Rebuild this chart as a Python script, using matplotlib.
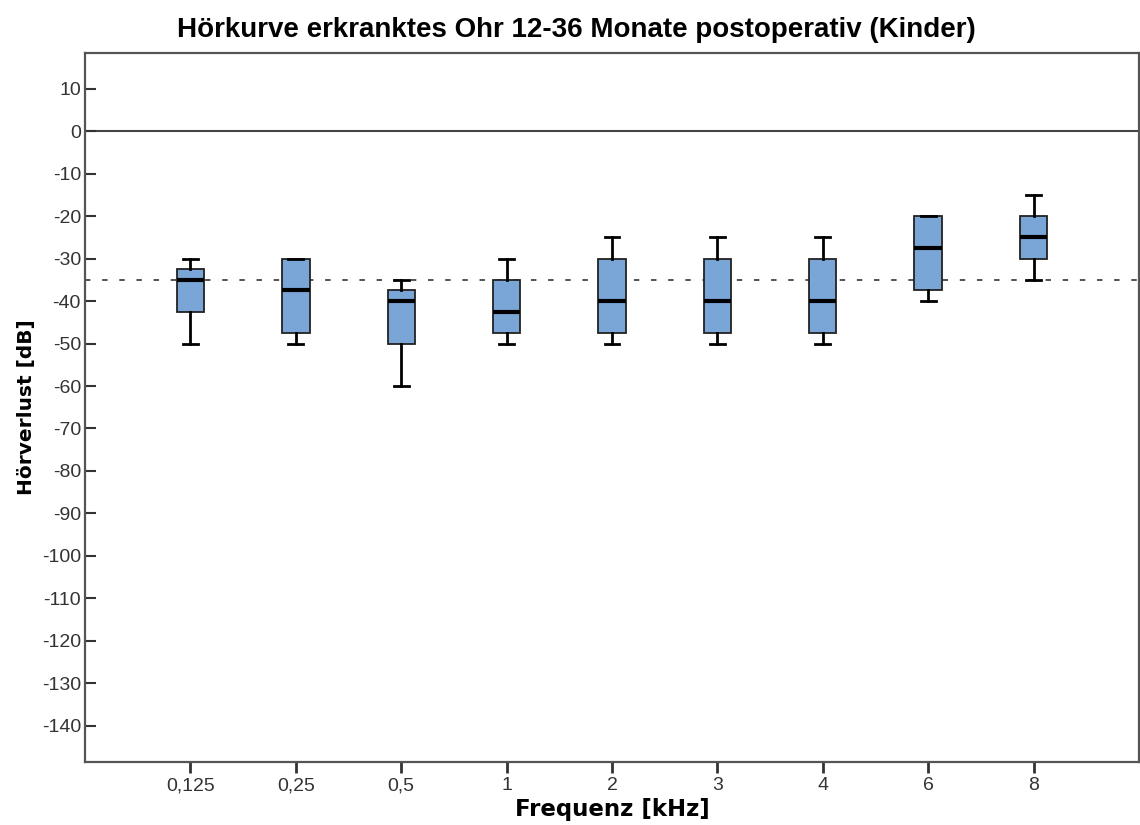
import matplotlib.pyplot as plt
import numpy as np

plt.rcParams['axes.unicode_minus'] = False

# Hörverlust je Frequenz, 12-36 Monate postoperativ (Kinder)
freqs = ['0,125', '0,25', '0,5', '1', '2', '3', '4', '6', '8']
whisker_low = [-50, -50, -60, -50, -50, -50, -50, -40, -35]
q1 = [-42.5, -47.5, -50, -47.5, -47.5, -47.5, -47.5, -37.5, -30]
median = [-35, -37.5, -40, -42.5, -40, -40, -40, -27.5, -25]
q3 = [-32.5, -30, -37.5, -35, -30, -30, -30, -20, -20]
whisker_high = [-30, -30, -35, -30, -25, -25, -25, -20, -15]
ref_level = -35

stats = []
for i, f in enumerate(freqs):
    stats.append({'label': f, 'whislo': whisker_low[i], 'q1': q1[i], 'med': median[i],
                  'q3': q3[i], 'whishi': whisker_high[i], 'fliers': []})

fig = plt.figure(figsize=(11.4, 8.25), dpi=100)
ax = fig.add_axes([0.0746, 0.0764, 0.9245, 0.8594])

positions = np.arange(1, len(freqs) + 1)
ax.bxp(stats, positions=positions, widths=0.26, patch_artist=True, showfliers=False,
       boxprops=dict(facecolor='#79a6d6', edgecolor='#222222', linewidth=1.3),
       medianprops=dict(color='black', linewidth=3),
       whiskerprops=dict(color='black', linewidth=2),
       capprops=dict(color='black', linewidth=2), capwidths=0.14)

ax.axhline(0, color='#444444', linewidth=1.5, zorder=1)
ax.axhline(ref_level, color='#444444', linewidth=1.3, linestyle=(0, (3, 6.5)), zorder=1)

ax.set_xlim(0, 10)
ax.set_ylim(-148.5, 18.4)
ax.set_xticks(positions)
ax.set_xticklabels(freqs)
ax.set_yticks(np.arange(-140, 11, 10))

font = 'Liberation Sans'
for lab in ax.get_xticklabels() + ax.get_yticklabels():
    lab.set_fontfamily(font)
    lab.set_fontsize(14)
    lab.set_color('#333333')
ax.tick_params(axis='y', direction='in', length=8, width=1.5, color='#333333', pad=3)
ax.tick_params(axis='x', direction='out', length=8, width=2, color='#333333', pad=3)

for s in ax.spines.values():
    s.set_color('#555555')
    s.set_linewidth(1.6)

ax.set_xlabel('Frequenz [kHz]', fontsize=16.5, fontweight='bold', family='DejaVu Sans', labelpad=3)
ax.set_ylabel('Hörverlust [dB]', fontsize=14.5, fontweight='bold', family='DejaVu Sans', labelpad=4)
fig.suptitle('Hörkurve erkranktes Ohr 12-36 Monate postoperativ (Kinder)', x=0.506, y=0.979,
             fontsize=20, fontweight='bold', family=font)

fig.savefig('out.png', dpi=100)
